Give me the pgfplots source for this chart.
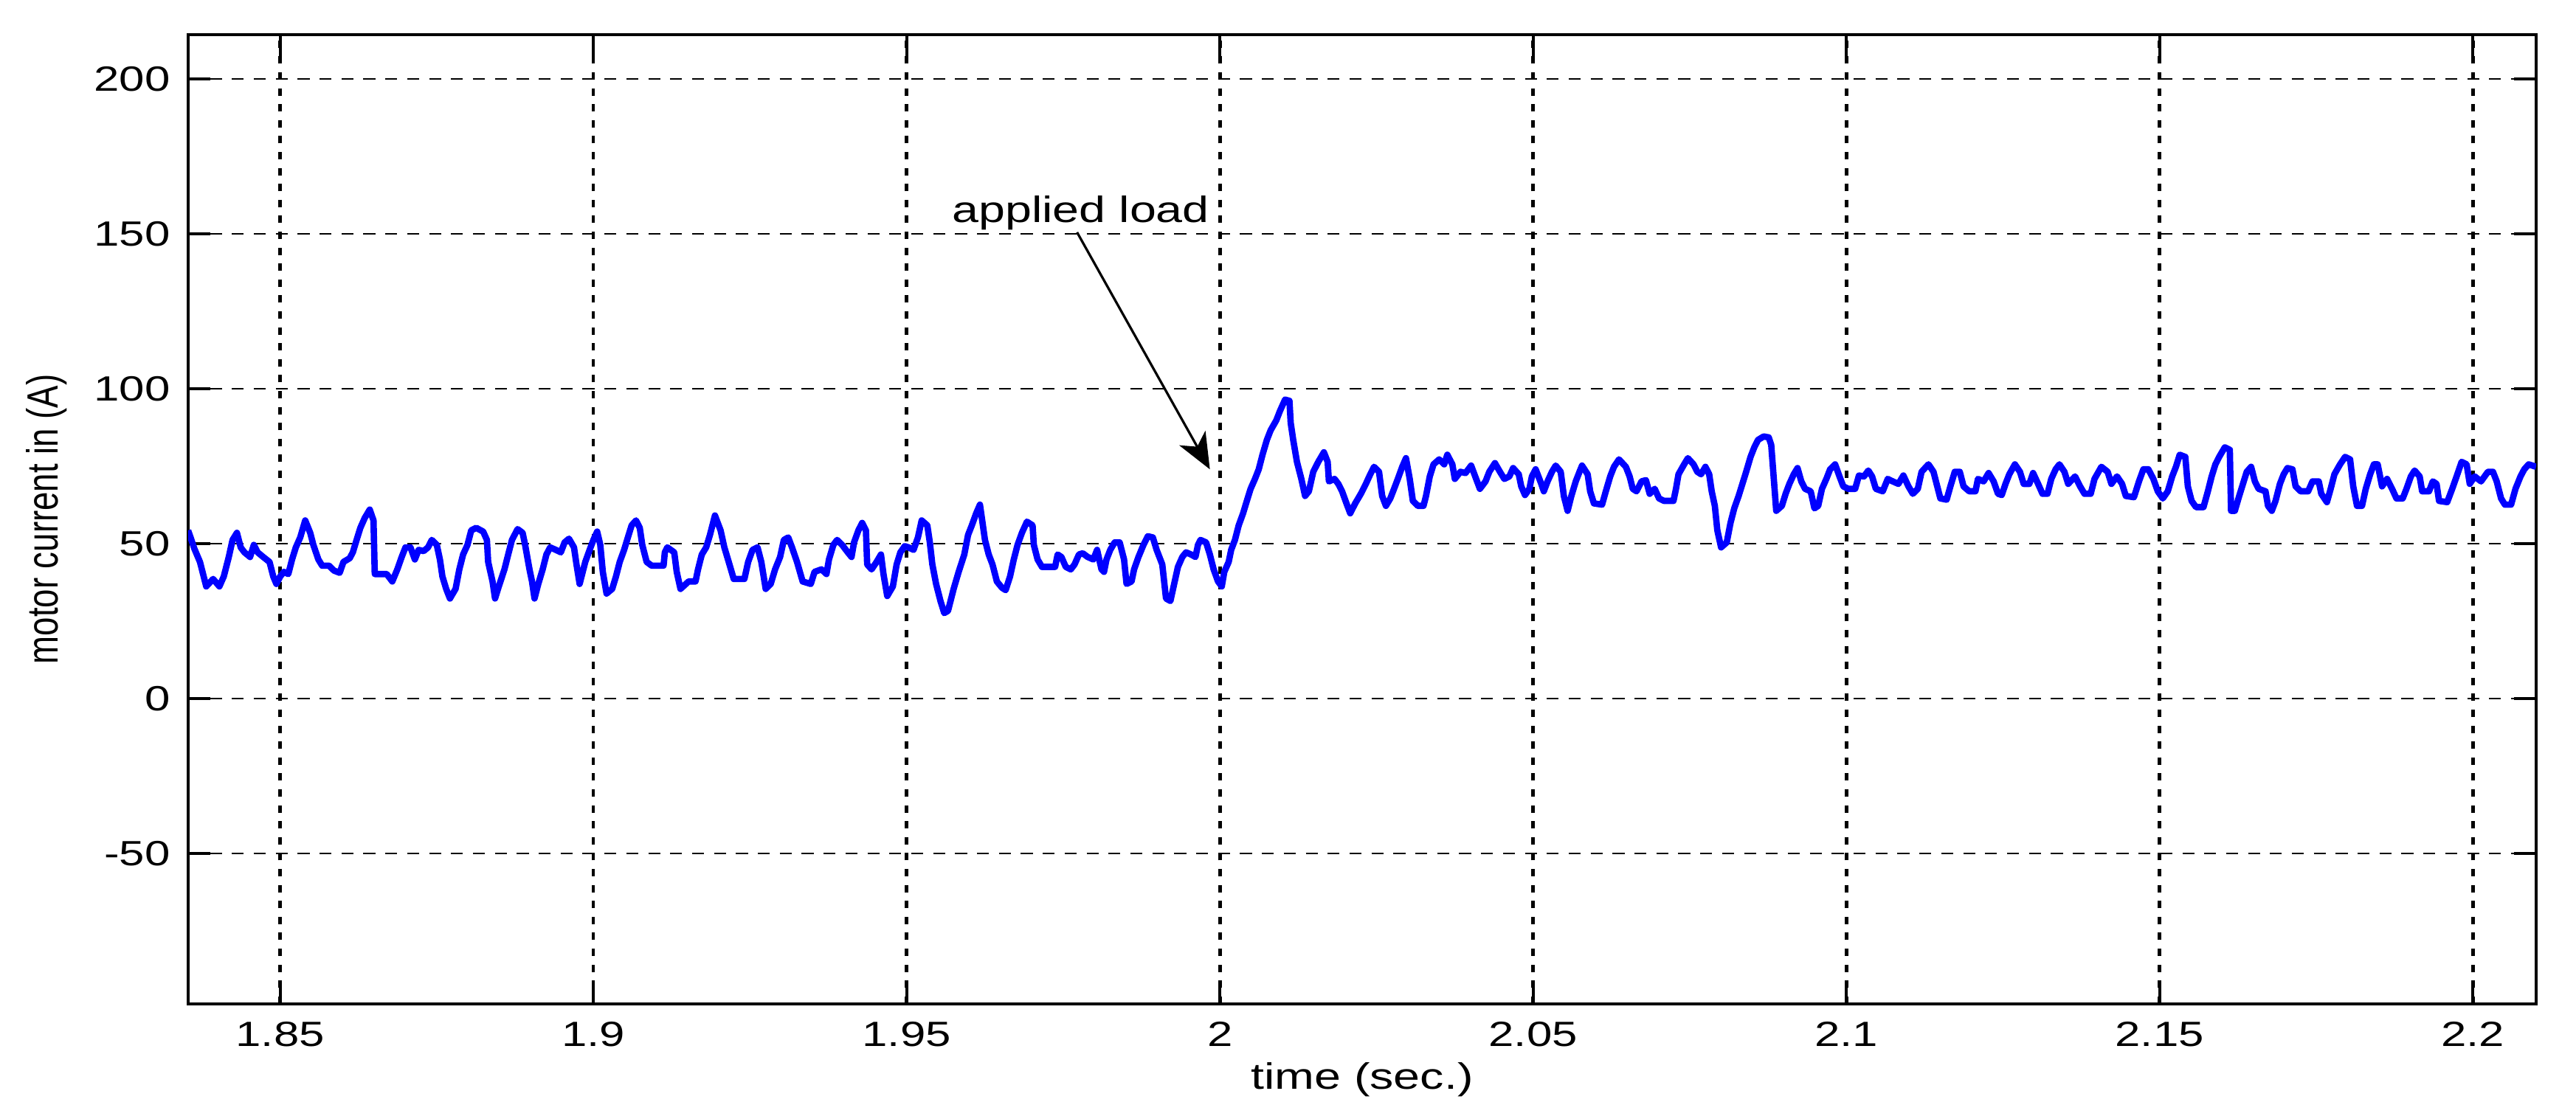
\documentclass[border=0pt]{standalone}
\usepackage{fontspec}
\setmainfont{Liberation Sans}[FakeStretch=1.3]
\newfontfamily\ylabfont{Liberation Sans}
\usepackage{graphicx}
\usepackage{pgfplots}
\usepackage{pgfplotstable}
\pgfplotsset{compat=1.18}
\usetikzlibrary{arrows.meta}

% motor current (A) vs time (s)
\pgfplotstableread{
t I
1.8353 54.3
1.8357 52.0
1.8363 48.4
1.8372 44.1
1.8382 36.2
1.8393 38.6
1.8403 36.2
1.8410 39.4
1.8418 45.7
1.8424 51.2
1.8431 53.5
1.8437 48.8
1.8443 47.2
1.8452 45.7
1.8458 49.6
1.8464 47.2
1.8473 45.7
1.8483 44.1
1.8489 39.4
1.8494 37.0
1.8500 39.4
1.8506 40.9
1.8513 40.2
1.8519 44.9
1.8525 48.8
1.8532 52.0
1.8540 57.5
1.8548 53.5
1.8553 49.6
1.8561 44.9
1.8567 42.9
1.8578 42.9
1.8586 41.3
1.8595 40.6
1.8601 44.1
1.8611 45.3
1.8616 47.2
1.8622 51.2
1.8628 55.1
1.8635 58.3
1.8643 61.0
1.8649 57.5
1.8651 40.2
1.8670 40.2
1.8679 37.8
1.8687 41.7
1.8694 45.7
1.8700 48.8
1.8708 48.8
1.8715 44.9
1.8721 48.0
1.8729 47.6
1.8736 48.8
1.8742 51.2
1.8750 49.6
1.8755 44.9
1.8759 39.4
1.8765 35.4
1.8771 32.3
1.8780 35.4
1.8786 41.7
1.8792 46.5
1.8799 49.6
1.8805 54.3
1.8813 55.1
1.8824 53.9
1.8830 51.2
1.8832 44.1
1.8839 37.8
1.8843 32.3
1.8849 36.2
1.8858 41.7
1.8864 46.5
1.8870 51.2
1.8879 54.7
1.8887 53.5
1.8891 49.6
1.8898 41.7
1.8902 37.8
1.8906 32.3
1.8912 37.0
1.8919 41.7
1.8925 46.5
1.8931 48.8
1.8940 48.0
1.8948 47.2
1.8954 50.4
1.8961 51.6
1.8969 48.8
1.8973 43.3
1.8978 37.0
1.8987 44.1
1.8994 48.0
1.9000 51.2
1.9006 53.9
1.9011 49.6
1.9015 40.9
1.9021 33.9
1.9030 35.4
1.9036 39.4
1.9042 44.1
1.9049 48.0
1.9055 52.0
1.9061 55.9
1.9068 57.5
1.9074 55.1
1.9078 49.6
1.9085 44.1
1.9093 42.9
1.9112 42.9
1.9114 47.2
1.9118 48.8
1.9129 47.2
1.9133 40.9
1.9139 35.4
1.9152 37.8
1.9163 37.8
1.9167 41.7
1.9173 46.5
1.9180 48.8
1.9186 52.8
1.9194 59.1
1.9203 54.3
1.9209 48.8
1.9216 44.1
1.9224 38.6
1.9241 38.6
1.9247 44.1
1.9254 48.0
1.9262 48.8
1.9268 44.1
1.9275 35.4
1.9283 37.0
1.9290 41.7
1.9298 45.7
1.9304 51.2
1.9311 52.0
1.9317 48.8
1.9325 44.1
1.9334 37.8
1.9347 37.0
1.9353 40.9
1.9364 41.7
1.9372 40.2
1.9376 44.9
1.9383 49.6
1.9389 51.2
1.9397 49.6
1.9406 47.2
1.9412 45.7
1.9416 50.4
1.9423 54.3
1.9429 56.7
1.9435 54.3
1.9437 43.3
1.9444 41.7
1.9452 44.1
1.9459 46.5
1.9463 40.2
1.9469 33.1
1.9478 36.2
1.9484 43.3
1.9490 47.2
1.9497 49.2
1.9503 48.8
1.9511 48.0
1.9518 52.0
1.9524 57.5
1.9533 55.9
1.9537 50.4
1.9541 43.3
1.9547 37.0
1.9554 31.5
1.9560 27.6
1.9566 28.3
1.9575 35.4
1.9583 40.9
1.9592 46.5
1.9598 52.8
1.9604 55.9
1.9611 59.8
1.9617 62.6
1.9625 51.2
1.9631 46.5
1.9637 43.3
1.9644 37.8
1.9652 35.8
1.9658 35.0
1.9665 39.4
1.9671 44.9
1.9677 49.6
1.9684 53.5
1.9692 57.1
1.9701 55.9
1.9703 49.6
1.9709 44.9
1.9716 42.5
1.9737 42.5
1.9741 46.5
1.9747 45.7
1.9754 42.5
1.9762 41.7
1.9768 43.3
1.9775 46.5
1.9781 46.9
1.9789 45.7
1.9798 44.9
1.9804 48.0
1.9811 41.7
1.9815 40.9
1.9819 44.9
1.9825 48.0
1.9832 50.4
1.9840 50.4
1.9847 44.9
1.9851 37.0
1.9859 37.8
1.9863 41.7
1.9870 45.7
1.9878 49.6
1.9885 52.4
1.9893 52.0
1.9899 48.0
1.9908 43.3
1.9914 32.3
1.9921 31.5
1.9927 37.0
1.9933 42.5
1.9940 45.7
1.9946 47.2
1.9954 46.5
1.9961 45.7
1.9965 49.6
1.9969 51.2
1.9978 50.4
1.9984 46.5
1.9990 41.7
1.9997 37.8
2.0003 36.2
2.0007 40.9
2.0014 44.1
2.0018 48.0
2.0024 51.2
2.0030 55.9
2.0037 59.8
2.0043 63.8
2.0049 67.7
2.0056 70.9
2.0062 74.0
2.0068 78.7
2.0075 83.5
2.0081 86.6
2.0090 89.8
2.0096 92.9
2.0104 96.5
2.0111 96.1
2.0113 89.0
2.0117 83.5
2.0123 76.4
2.0130 70.9
2.0136 65.4
2.0142 66.9
2.0149 73.2
2.0157 76.4
2.0166 79.5
2.0172 76.4
2.0174 70.1
2.0183 70.9
2.0189 69.3
2.0195 66.9
2.0202 63.0
2.0208 59.8
2.0216 63.0
2.0225 66.1
2.0233 69.3
2.0240 72.4
2.0246 74.8
2.0254 73.2
2.0259 65.4
2.0265 62.2
2.0272 64.6
2.0278 67.7
2.0284 70.9
2.0291 74.8
2.0297 77.6
2.0303 70.9
2.0308 63.8
2.0316 62.2
2.0325 62.2
2.0329 65.4
2.0335 71.7
2.0341 75.6
2.0350 77.2
2.0358 75.6
2.0363 78.7
2.0371 75.6
2.0375 70.9
2.0384 73.2
2.0392 72.8
2.0401 75.2
2.0409 70.9
2.0415 67.7
2.0424 70.1
2.0430 73.2
2.0439 76.0
2.0447 73.2
2.0454 70.9
2.0462 71.7
2.0468 74.4
2.0477 72.4
2.0481 68.5
2.0487 65.7
2.0494 67.7
2.0498 71.7
2.0504 74.0
2.0513 69.3
2.0517 66.9
2.0523 70.1
2.0530 73.2
2.0536 75.2
2.0544 73.2
2.0549 65.4
2.0555 60.6
2.0561 65.4
2.0568 70.1
2.0574 73.2
2.0578 75.2
2.0587 72.4
2.0591 66.9
2.0597 63.0
2.0610 62.6
2.0616 66.9
2.0623 71.7
2.0629 74.8
2.0637 77.2
2.0648 74.8
2.0654 71.7
2.0659 67.7
2.0665 66.9
2.0673 70.1
2.0680 70.5
2.0686 66.1
2.0694 67.7
2.0701 64.6
2.0709 63.8
2.0724 63.8
2.0728 67.7
2.0732 72.4
2.0741 75.6
2.0747 77.6
2.0756 75.6
2.0762 73.2
2.0768 72.4
2.0775 74.8
2.0781 72.4
2.0785 66.9
2.0790 62.2
2.0794 54.3
2.0800 48.8
2.0809 50.4
2.0815 56.7
2.0821 61.4
2.0828 65.4
2.0834 69.3
2.0840 73.2
2.0847 78.0
2.0853 81.1
2.0859 83.5
2.0868 84.6
2.0876 84.3
2.0880 81.9
2.0888 60.6
2.0897 62.2
2.0903 66.1
2.0909 69.3
2.0916 72.4
2.0922 74.4
2.0928 70.1
2.0934 67.7
2.0943 66.9
2.0949 61.4
2.0955 62.2
2.0961 67.7
2.0968 70.9
2.0974 74.0
2.0982 75.6
2.0989 71.7
2.0995 68.5
2.1003 67.7
2.1014 67.7
2.1020 72.0
2.1028 71.7
2.1035 73.6
2.1041 71.7
2.1047 67.7
2.1058 66.9
2.1066 70.9
2.1074 70.1
2.1083 69.3
2.1091 72.0
2.1099 68.5
2.1106 66.1
2.1114 67.7
2.1120 73.2
2.1131 75.6
2.1139 73.2
2.1145 68.5
2.1150 64.6
2.1160 64.2
2.1166 68.5
2.1173 73.2
2.1181 73.2
2.1187 68.5
2.1196 66.9
2.1206 66.9
2.1210 70.9
2.1219 70.1
2.1227 72.8
2.1235 70.1
2.1242 66.1
2.1248 65.7
2.1254 69.3
2.1260 72.4
2.1269 75.6
2.1277 73.2
2.1283 69.3
2.1292 69.3
2.1298 72.8
2.1306 69.3
2.1313 66.1
2.1321 66.1
2.1327 70.9
2.1334 74.0
2.1340 75.6
2.1348 73.2
2.1354 69.3
2.1365 71.7
2.1373 68.5
2.1380 66.1
2.1390 66.1
2.1396 70.9
2.1407 74.8
2.1417 73.2
2.1423 69.3
2.1432 71.7
2.1440 69.3
2.1446 65.4
2.1459 65.0
2.1467 70.1
2.1474 74.0
2.1482 74.0
2.1490 70.9
2.1497 66.9
2.1505 64.6
2.1513 66.9
2.1520 71.7
2.1526 74.8
2.1532 78.7
2.1541 78.0
2.1545 68.5
2.1551 63.8
2.1558 61.8
2.1570 61.8
2.1577 66.9
2.1583 71.7
2.1589 75.6
2.1595 78.0
2.1604 81.1
2.1612 80.3
2.1614 60.6
2.1620 60.6
2.1627 65.4
2.1633 69.3
2.1639 73.2
2.1646 74.8
2.1652 70.1
2.1658 67.7
2.1669 66.9
2.1673 62.2
2.1679 60.6
2.1685 63.8
2.1692 69.3
2.1698 72.4
2.1704 74.4
2.1712 74.0
2.1717 68.5
2.1725 66.9
2.1737 66.9
2.1744 70.1
2.1754 70.1
2.1758 66.1
2.1767 63.4
2.1773 67.7
2.1779 72.4
2.1788 75.6
2.1796 78.0
2.1804 77.2
2.1809 68.5
2.1815 62.2
2.1823 62.2
2.1829 67.7
2.1836 72.4
2.1842 75.6
2.1848 75.6
2.1855 68.5
2.1863 70.9
2.1871 67.7
2.1878 64.6
2.1888 64.6
2.1894 67.7
2.1901 71.7
2.1907 73.6
2.1915 71.7
2.1919 66.9
2.1930 66.9
2.1936 70.1
2.1942 69.3
2.1946 63.8
2.1959 63.4
2.1967 67.7
2.1974 71.7
2.1982 76.4
2.1990 75.6
2.1995 69.3
2.2003 71.7
2.2013 70.1
2.2024 73.2
2.2032 73.2
2.2038 70.1
2.2045 64.6
2.2051 62.6
2.2061 62.6
2.2068 67.7
2.2076 71.7
2.2082 74.0
2.2089 75.6
2.2101 74.8
}\motorcurrent

\begin{document}
\begin{tikzpicture}
\begin{axis}[
    scale only axis,
    width=589.3pt, height=243.3pt,
    xmin=1.8353, xmax=2.2101,
    ymin=-98.5, ymax=214.3,
    xtick={1.85,1.9,1.95,2,2.05,2.1,2.15,2.2},
    xticklabels={1.85,1.9,1.95,2,2.05,2.1,2.15,2.2},
    ytick={-50,0,50,100,150,200},
    yticklabels={-50,0,50,100,150,200},
    /pgf/number format/assume math mode=true,
    tick label style={font=\fontsize{8.8}{10}\selectfont},
    xticklabel style={yshift=-1pt},
    yticklabel style={xshift=-1pt},
    tick align=inside,
    major tick length=5.5pt,
    every tick/.style={black, line width=0.75pt},
    axis line style={black, line width=0.75pt},
    grid=major,
    x grid style={black, line width=0.85pt, dash pattern=on 1.85pt off 2.15pt},
    y grid style={black, line width=0.5pt, dash pattern=on 3pt off 2.5pt},
    xlabel={time (sec.)},
    xlabel style={font=\fontsize{9.2}{11}\selectfont, at={(axis description cs:0.5,0)}, anchor=base, yshift=-21.5pt},
    ylabel={\ylabfont\fontsize{8.45}{10}\selectfont\scalebox{1}[1.3]{motor current in (A)}},
    ylabel style={at={(axis description cs:0,0.5)}, anchor=center, rotate=0, yshift=35.5pt},
    clip=true,
]
\addplot[color={rgb,255:red,0;green,0;blue,255}, line width=1.6pt, line join=round] table[x=t, y=I] {\motorcurrent};
\node[font=\fontsize{9.2}{11}\selectfont, anchor=base] at (axis cs:1.9778,153.8) {applied load};
\draw[black, line width=0.6pt, -{Stealth[length=9pt, width=7.5pt, inset=2.5pt]}] (axis cs:1.9772,150.5) -- (axis cs:1.9984,74);
\end{axis}
\path ([shift={(-47.2pt,-28.9pt)}]current axis.south west) rectangle ([shift={(10pt,8.7pt)}]current axis.north east);
\end{tikzpicture}
\end{document}
